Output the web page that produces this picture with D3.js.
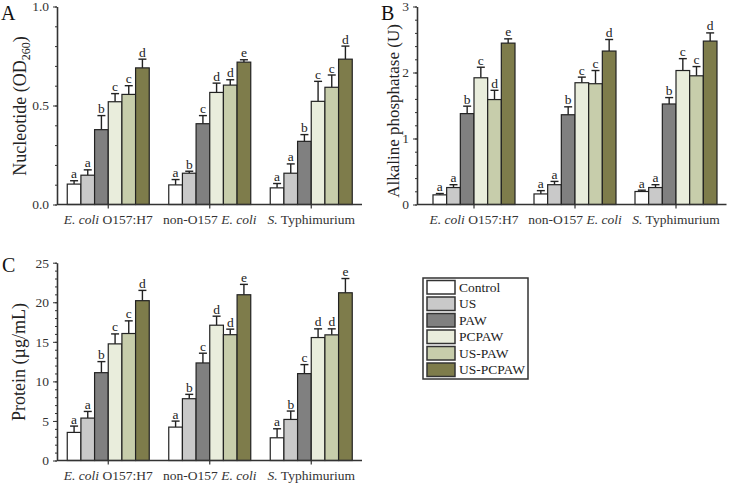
<!DOCTYPE html>
<html>
<head>
<meta charset="utf-8">
<script src="https://cdn.jsdelivr.net/npm/d3@7"></script>
<style>
  body { margin: 0; background: #fff; }
  svg { display: block; font-family: "Liberation Serif", "Times New Roman", serif; }
  .axis path, .axis line { stroke: #333; }
  .axis path { stroke-width: 1.6; }
  .axis text { font-family: "Liberation Serif", "Times New Roman", serif; fill: #333; }
</style>
</head>
<body>
<svg id="chart" width="730" height="483"></svg>
<script>
// groups on the x axis (italic parts marked)
const groups = [
    [{ t: "E. coli", i: true }, { t: " O157:H7", i: false }],
    [{ t: "non-O157 ", i: false }, { t: "E. coli", i: true }],
    [{ t: "S.", i: true }, { t: " Typhimurium", i: false }]
];
const treatments = ["Control", "US", "PAW", "PCPAW", "US-PAW", "US-PCPAW"];
const colors = ["#ffffff", "#c9c9c9", "#808080", "#e9eddc", "#c7cdab", "#7e7c4b"];

// Panel A: nucleotide (OD260)
const nucleotideMean = [
    [0.103, 0.148, 0.378, 0.519, 0.556, 0.690],
    [0.099, 0.158, 0.408, 0.566, 0.603, 0.719],
    [0.084, 0.158, 0.319, 0.521, 0.592, 0.734]
];
const nucleotideSD = [
    [0.017, 0.027, 0.071, 0.041, 0.044, 0.044],
    [0.027, 0.010, 0.041, 0.047, 0.027, 0.012],
    [0.022, 0.047, 0.034, 0.101, 0.062, 0.066]
];
const nucleotideLetters = [
    ["a", "a", "b", "c", "c", "d"],
    ["a", "b", "c", "d", "d", "e"],
    ["a", "a", "b", "c", "c", "d"]
];

// Panel B: alkaline phosphatase (U)
const akpMean = [
    [0.146, 0.257, 1.377, 1.920, 1.590, 2.445],
    [0.160, 0.300, 1.360, 1.845, 1.830, 2.325],
    [0.197, 0.257, 1.523, 2.030, 1.950, 2.476]
];
const akpSD = [
    [0.020, 0.043, 0.113, 0.160, 0.140, 0.065],
    [0.050, 0.050, 0.120, 0.085, 0.200, 0.175],
    [0.020, 0.043, 0.097, 0.180, 0.140, 0.124]
];
const akpLetters = [
    ["a", "a", "b", "c", "d", "e"],
    ["a", "a", "b", "c", "c", "d"],
    ["a", "a", "b", "c", "c", "d"]
];

// Panel C: protein (ug/mL)
const proteinMean = [
    [3.55, 5.36, 11.10, 14.74, 16.05, 20.20],
    [4.22, 7.81, 12.33, 17.10, 15.90, 20.95],
    [2.87, 5.19, 10.98, 15.54, 15.88, 21.20]
];
const proteinSD = [
    [0.80, 0.84, 1.40, 1.26, 1.60, 1.30],
    [0.76, 0.55, 1.23, 1.14, 0.70, 1.31],
    [1.14, 1.06, 1.14, 1.10, 0.76, 1.80]
];
const proteinLetters = [
    ["a", "a", "b", "c", "c", "d"],
    ["a", "b", "c", "d", "d", "e"],
    ["a", "b", "c", "d", "d", "e"]
];

const svg = d3.select("#chart");

function drawPanel(p) {
    const g = svg.append("g");
    const y = d3.scaleLinear().domain(p.domain).range([p.bottom, p.top]);
    const x0 = d3.scaleBand().domain(d3.range(groups.length)).range(p.groupRange);
    const barSpan = 82;
    const x1 = d3.scaleBand().domain(treatments)
        .range([(x0.bandwidth() - barSpan) / 2, (x0.bandwidth() + barSpan) / 2]);

    // bars
    p.mean.forEach((vals, gi) => {
        const gg = g.append("g").attr("transform", `translate(${x0(gi)},0)`);
        vals.forEach((v, ti) => {
            const bx = x1(treatments[ti]);
            const cx = bx + x1.bandwidth() / 2;
            const top = y(v + p.sd[gi][ti]);
            // error bar
            gg.append("line")
                .attr("x1", cx).attr("x2", cx)
                .attr("y1", y(v)).attr("y2", top)
                .attr("stroke", "#222").attr("stroke-width", 1.4);
            gg.append("line")
                .attr("x1", cx - 4).attr("x2", cx + 4)
                .attr("y1", top).attr("y2", top)
                .attr("stroke", "#222").attr("stroke-width", 1.4);
            gg.append("rect")
                .attr("x", bx).attr("y", y(v))
                .attr("width", x1.bandwidth())
                .attr("height", y(0) - y(v))
                .attr("fill", colors[ti])
                .attr("stroke", "#222").attr("stroke-width", 1.2);
            gg.append("text")
                .attr("x", cx).attr("y", top - 2.5)
                .attr("text-anchor", "middle")
                .attr("font-size", 13.5)
                .attr("fill", "#222")
                .text(p.letters[gi][ti]);
        });
    });

    // y axis: minor ticks + major
    g.append("g").attr("class", "axis")
        .attr("transform", `translate(${p.axisLeft},0)`)
        .call(d3.axisLeft(y).tickValues(d3.range(p.domain[0], p.domain[1] + 1e-9, p.minor))
            .tickSize(2).tickSizeOuter(0).tickFormat(""))
        .call(a => a.select(".domain").remove());
    g.append("g").attr("class", "axis")
        .attr("transform", `translate(${p.axisLeft},0)`)
        .call(d3.axisLeft(y).tickValues(p.ticks).tickSize(4).tickSizeOuter(0)
            .tickFormat(p.fmt))
        .call(a => a.selectAll("text").attr("font-size", 13.5).attr("dx", "-1"));

    // x axis
    const xa = g.append("g").attr("class", "axis");
    xa.append("line")
        .attr("x1", p.axisLeft).attr("x2", p.groupRange[1])
        .attr("y1", p.bottom).attr("y2", p.bottom)
        .attr("stroke", "#333").attr("stroke-width", 1.6);
    groups.forEach((parts, gi) => {
        const cx = x0(gi) + x0.bandwidth() / 2;
        xa.append("line")
            .attr("x1", cx).attr("x2", cx)
            .attr("y1", p.bottom).attr("y2", p.bottom + 4)
            .attr("stroke", "#333").attr("stroke-width", 1.2);
        const t = xa.append("text")
            .attr("x", cx).attr("y", p.bottom + 19)
            .attr("text-anchor", "middle")
            .attr("font-size", 13.5)
            .attr("fill", "#222");
        parts.forEach(pt => {
            t.append("tspan").attr("font-style", pt.i ? "italic" : "normal").text(pt.t);
        });
    });

    // y title
    const yt = g.append("text")
        .attr("transform", `translate(${p.titleX},${p.titleY}) rotate(-90)`)
        .attr("text-anchor", "middle")
        .attr("font-size", p.titleSize)
        .attr("fill", "#222");
    p.title(yt);

    // panel letter
    g.append("text")
        .attr("x", p.letterX).attr("y", p.letterY)
        .attr("font-size", 20)
        .attr("fill", "#111")
        .text(p.letter);
}

drawPanel({
    mean: nucleotideMean, sd: nucleotideSD, letters: nucleotideLetters,
    domain: [0, 1], ticks: [0, 0.5, 1], minor: 0.1, fmt: d3.format(".1f"),
    top: 6.5, bottom: 204.5, axisLeft: 57, groupRange: [57.5, 362],
    titleX: 26, titleY: 106, titleSize: 18, letter: "A", letterX: 1, letterY: 20,
    title: t => {
        t.append("tspan").text("Nucleotide (OD");
        t.append("tspan").attr("font-size", 12).attr("dy", 4).text("260");
        t.append("tspan").attr("dy", -4).text(")");
    }
});

drawPanel({
    mean: akpMean, sd: akpSD, letters: akpLetters,
    domain: [0, 3], ticks: [0, 1, 2, 3], minor: 0.2, fmt: d3.format("d"),
    top: 6.5, bottom: 204.5, axisLeft: 417, groupRange: [423.5, 726.5],
    titleX: 399, titleY: 111, titleSize: 17, letter: "B", letterX: 381, letterY: 20,
    title: t => t.text("Alkaline phosphatase (U)")
});

drawPanel({
    mean: proteinMean, sd: proteinSD, letters: proteinLetters,
    domain: [0, 25], ticks: [0, 5, 10, 15, 20, 25], minor: 1, fmt: d3.format("d"),
    top: 262.7, bottom: 460.5, axisLeft: 57, groupRange: [57.5, 362],
    titleX: 25, titleY: 362, titleSize: 18, letter: "C", letterX: 2, letterY: 272,
    title: t => t.text("Protein (\u00b5g/mL)")
});

// legend
const legend = svg.append("g").attr("transform", "translate(423,278)");
legend.append("rect")
    .attr("x", 0).attr("y", 0).attr("width", 105).attr("height", 101)
    .attr("fill", "#fff").attr("stroke", "#333").attr("stroke-width", 1.5);
const ly = d3.scaleBand().domain(treatments).range([1, 100]);
treatments.forEach((t, i) => {
    legend.append("rect")
        .attr("x", 4).attr("y", ly(t) + 1.5)
        .attr("width", 28).attr("height", ly.bandwidth() - 3)
        .attr("fill", colors[i])
        .attr("stroke", "#333").attr("stroke-width", 1.5);
    legend.append("text")
        .attr("x", 36).attr("y", ly(t) + ly.bandwidth() / 2 + 4.5)
        .attr("font-size", 13.5)
        .attr("fill", "#222")
        .text(t);
});
</script>
</body>
</html>
